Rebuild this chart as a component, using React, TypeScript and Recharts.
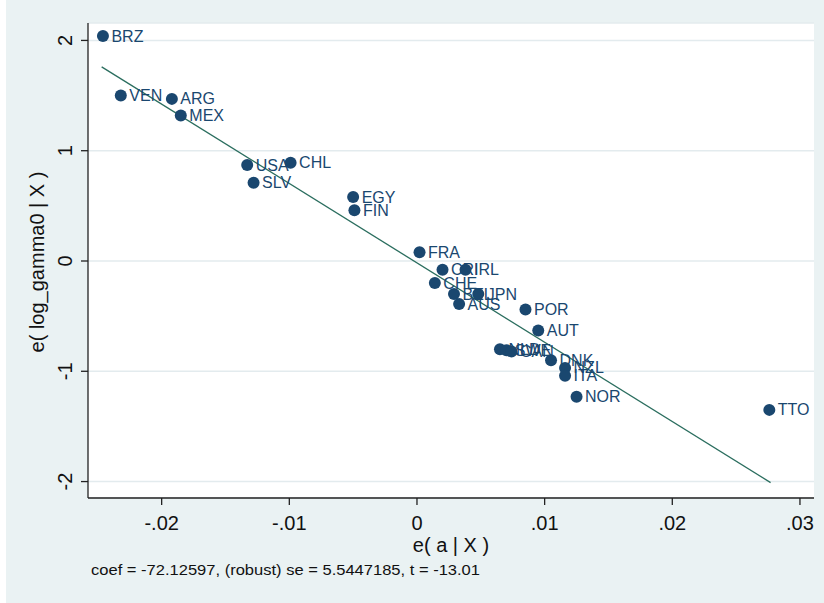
import React from 'react';
import {
    ScatterChart,
    Scatter,
    XAxis,
    YAxis,
    CartesianGrid,
    ReferenceLine,
} from 'recharts';

// country codes and the two residuals
const countries = [
    'BRZ', 'VEN', 'ARG', 'MEX', 'USA', 'CHL', 'SLV', 'EGY', 'FIN', 'FRA',
    'CRI', 'IRL', 'CHE', 'BEL', 'JPN', 'AUS', 'POR', 'AUT', 'NLD', 'SWE',
    'CAN', 'DNK', 'NZL', 'ITA', 'NOR', 'TTO',
];
const residA = [
    -0.0246, -0.0232, -0.0192, -0.0185, -0.0133, -0.0099, -0.0128, -0.005, -0.0049, 0.0002,
    0.002, 0.0038, 0.0014, 0.0029, 0.0048, 0.0033, 0.0085, 0.0095, 0.0065, 0.007,
    0.0074, 0.0105, 0.0116, 0.0116, 0.0125, 0.0276,
];
const residGamma = [
    2.04, 1.5, 1.47, 1.32, 0.87, 0.89, 0.71, 0.58, 0.46, 0.08,
    -0.08, -0.08, -0.2, -0.3, -0.3, -0.39, -0.44, -0.63, -0.8, -0.81,
    -0.82, -0.9, -0.97, -1.04, -1.23, -1.35,
];

// fitted line end points
const fitX = [-0.0247, 0.0277];
const fitY = [1.76, -2.01];

const xTicks = [-0.02, -0.01, 0, 0.01, 0.02, 0.03];
const xTickLabels = ['-.02', '-.01', '0', '.01', '.02', '.03'];
const yTicks = [-2, -1, 0, 1, 2];

const note = 'coef = -72.12597, (robust) se = 5.5447185, t = -13.01';

const points = countries.map((c, i) => ({
    name: c,
    x: residA[i],
    y: residGamma[i],
}));

const NAVY = '#1a476f';
const FONT = '"Liberation Sans", Arial, sans-serif';

function Dot(props: any) {
    const { cx, cy, payload } = props;
    return (
        <g>
            <circle cx={cx} cy={cy} r={6} fill={NAVY} />
            <text
                x={cx + 8.5}
                y={cy + 5.5}
                fontSize={16}
                fontFamily={FONT}
                fill={NAVY}
            >
                {payload.name}
            </text>
        </g>
    );
}

function XTick(props: any) {
    const { x, y, payload } = props;
    const i = xTicks.indexOf(payload.value);
    return (
        <text
            x={x}
            y={y + 22}
            textAnchor="middle"
            fontSize={20}
            fontFamily={FONT}
            fill="#111"
        >
            {i >= 0 ? xTickLabels[i] : payload.value}
        </text>
    );
}

function YTick(props: any) {
    const { x, y, payload } = props;
    const tx = x - 6;
    return (
        <text
            x={tx}
            y={y}
            textAnchor="middle"
            fontSize={20}
            fontFamily={FONT}
            fill="#111"
            transform={`rotate(-90 ${tx} ${y})`}
        >
            {payload.value}
        </text>
    );
}

export default function App() {
    return (
        <div
            style={{
                position: 'absolute',
                left: 0,
                top: 0,
                width: 824,
                height: 603,
                background: '#fff',
            }}
        >
            <div
                style={{
                    position: 'absolute',
                    left: 6,
                    top: 0,
                    width: 818,
                    height: 603,
                    background: '#eaf2f3',
                }}
            />
            <div style={{ position: 'absolute', left: 0, top: 0 }}>
                <ScatterChart
                    width={824}
                    height={603}
                    margin={{ top: 23, right: 10, bottom: 65, left: 28 }}
                >
                    <CartesianGrid
                        vertical={false}
                        fill="#fff"
                        stroke="#e3ebee"
                        strokeWidth={1.5}
                    />
                    <XAxis
                        type="number"
                        dataKey="x"
                        domain={[-0.02577, 0.0311]}
                        ticks={xTicks}
                        allowDataOverflow
                        height={40}
                        tickSize={7}
                        tickMargin={3}
                        axisLine={{ stroke: '#222', strokeWidth: 1.3 }}
                        tickLine={{ stroke: '#222', strokeWidth: 1.3 }}
                        tick={<XTick />}
                    />
                    <YAxis
                        type="number"
                        dataKey="y"
                        domain={[-2.149, 2.158]}
                        ticks={yTicks}
                        allowDataOverflow
                        width={60}
                        tickSize={7}
                        tickMargin={3}
                        axisLine={{ stroke: '#222', strokeWidth: 1.3 }}
                        tickLine={{ stroke: '#222', strokeWidth: 1.3 }}
                        tick={<YTick />}
                    />
                    <ReferenceLine
                        segment={[
                            { x: fitX[0], y: fitY[0] },
                            { x: fitX[1], y: fitY[1] },
                        ]}
                        stroke="#2b6e5f"
                        strokeWidth={1.3}
                    />
                    <Scatter
                        data={points}
                        shape={<Dot />}
                        isAnimationActive={false}
                    />
                </ScatterChart>
            </div>
            <svg
                width={824}
                height={603}
                style={{ position: 'absolute', left: 0, top: 0, pointerEvents: 'none' }}
            >
                <text
                    x={451}
                    y={552}
                    textAnchor="middle"
                    fontSize={20}
                    fontFamily={FONT}
                    fill="#111"
                >
                    e( a | X )
                </text>
                <text
                    x={44}
                    y={262}
                    textAnchor="middle"
                    fontSize={20}
                    fontFamily={FONT}
                    fill="#111"
                    transform="rotate(-90 44 262)"
                >
                    e( log_gamma0 | X )
                </text>
                <text
                    x={91}
                    y={575}
                    fontSize={15}
                    fontFamily={FONT}
                    fill="#111"
                    textLength={389}
                    lengthAdjust="spacingAndGlyphs"
                >
                    {note}
                </text>
            </svg>
        </div>
    );
}
